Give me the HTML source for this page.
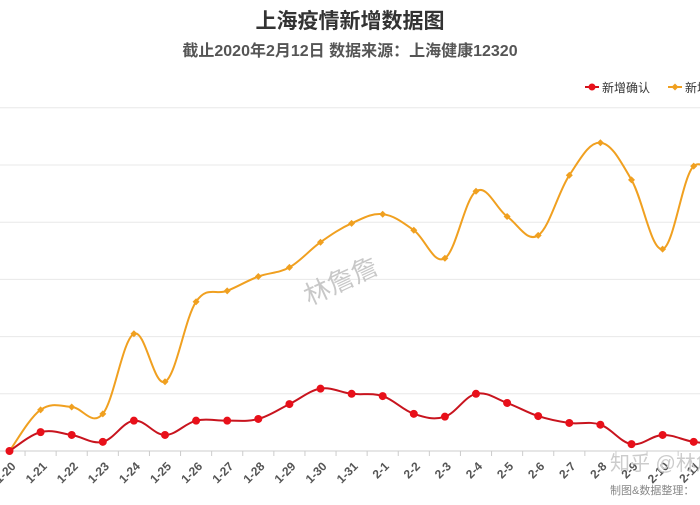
<!DOCTYPE html>
<html><head><meta charset="utf-8">
<style>
body{margin:0;background:#fff;}
svg text{font-family:"Liberation Sans","Noto Sans CJK SC",sans-serif;}
</style></head>
<body>
<svg id="chart" width="700" height="500" viewBox="0 0 700 500" xmlns="http://www.w3.org/2000/svg">
<text x="350" y="28" text-anchor="middle" font-size="21" font-weight="bold" fill="#333">上海疫情新增数据图</text>
<text x="350" y="56" text-anchor="middle" font-size="16" font-weight="bold" fill="#555">截止2020年2月12日 数据来源：上海健康12320</text>
<g>
<line x1="585" y1="87" x2="599" y2="87" stroke="#d0121b" stroke-width="2"/><circle cx="592" cy="87" r="3.5" fill="#e8101a"/>
<text x="602" y="92" font-size="12" fill="#333">新增确认</text></g>
<g>
<line x1="668" y1="87" x2="682" y2="87" stroke="#f0a020" stroke-width="2"/><path d="M675 83.5 L678.5 87 L675 90.5 L671.5 87Z" fill="#f0a020"/>
<text x="685" y="92" font-size="12" fill="#333">新增疑似</text></g>
<g id="grid"></g>
<g id="xaxis"></g>
<g id="series"></g>
<text x="298" y="285" font-size="26" fill="#c8c8c8" transform="rotate(-25 350 270)">林詹詹</text>
<text x="610" y="470" font-size="20" fill="#ccc">知乎 @林詹</text>
<text x="610" y="494" font-size="11" fill="#888">制图&amp;数据整理：</text>
</svg>
<script>
const categories=["1-20","1-21","1-22","1-23","1-24","1-25","1-26","1-27","1-28","1-29","1-30","1-31","2-1","2-2","2-3","2-4","2-5","2-6","2-7","2-8","2-9","2-10","2-11","2-12"];
const confirmedValues=[0,3.3,2.8,1.6,5.3,2.8,5.3,5.3,5.6,8.2,10.9,10,9.6,6.5,6,10,8.4,6.1,4.9,4.6,1.2,2.8,1.6,1.2];
const suspectedValues=[0,7.2,7.7,6.5,20.5,12.1,26.1,28,30.5,32.1,36.5,39.8,41.4,38.6,33.7,45.4,41,37.7,48.2,53.9,47.4,35.3,49.8,45];
const yTicks=[0,10,20,30,40,50,60];
const NS="http://www.w3.org/2000/svg";
const x0=9.5,step=31.1,yBase=451,yScale=5.72;
const xs=i=>x0+i*step, ys=v=>yBase-v*yScale;
function mk(tag,attrs,parent){const e=document.createElementNS(NS,tag);for(const k in attrs)e.setAttribute(k,attrs[k]);parent.appendChild(e);return e;}
const grid=document.getElementById('grid');
yTicks.forEach(t=>{const l=mk('line',{x1:0,x2:700,y1:ys(t),y2:ys(t),stroke:t===0?'#ccc':'#e8e8e8','stroke-width':1},grid);

});
const xa=document.getElementById('xaxis');
categories.forEach((c,i)=>{const tk=mk('line',{x1:xs(i)+step/2,x2:xs(i)+step/2,y1:yBase,y2:yBase+5,stroke:'#ccc'},xa);


const x=xs(i)+7,y=yBase+16;
const t=mk('text',{x:x,y:y,'font-size':12,'font-weight':'bold',fill:'#555','text-anchor':'end',transform:`rotate(-45 ${x} ${y})`},xa);t.textContent=c;

});
function smooth(pts){let d=`M${pts[0][0]},${pts[0][1]}`;for(let i=0;i<pts.length-1;i++){const p0=pts[i-1]||pts[i],p1=pts[i],p2=pts[i+1],p3=pts[i+2]||p2;const k=0.18;
d+=` C${p1[0]+(p2[0]-p0[0])*k},${p1[1]+(p2[1]-p0[1])*k} ${p2[0]-(p3[0]-p1[0])*k},${p2[1]-(p3[1]-p1[1])*k} ${p2[0]},${p2[1]}`;}return d;}
const sg=document.getElementById('series');
function draw(vals,color,lineColor,name,marker){const pts=vals.map((v,i)=>[xs(i),ys(v)]);
const p=mk('path',{d:smooth(pts),fill:'none',stroke:lineColor,'stroke-width':2},sg);


pts.forEach(([x,y])=>{let m;if(marker==='circle')m=mk('circle',{cx:x,cy:y,r:4,fill:color},sg);else m=mk('path',{d:`M${x} ${y-3.5} L${x+3.5} ${y} L${x} ${y+3.5} L${x-3.5} ${y}Z`,fill:color},sg);

});}
draw(suspectedValues,'#f0a020','#f0a020','suspected','diamond');
draw(confirmedValues,'#e8101a','#c8141e','confirmed','circle');
</script>
</body></html>
